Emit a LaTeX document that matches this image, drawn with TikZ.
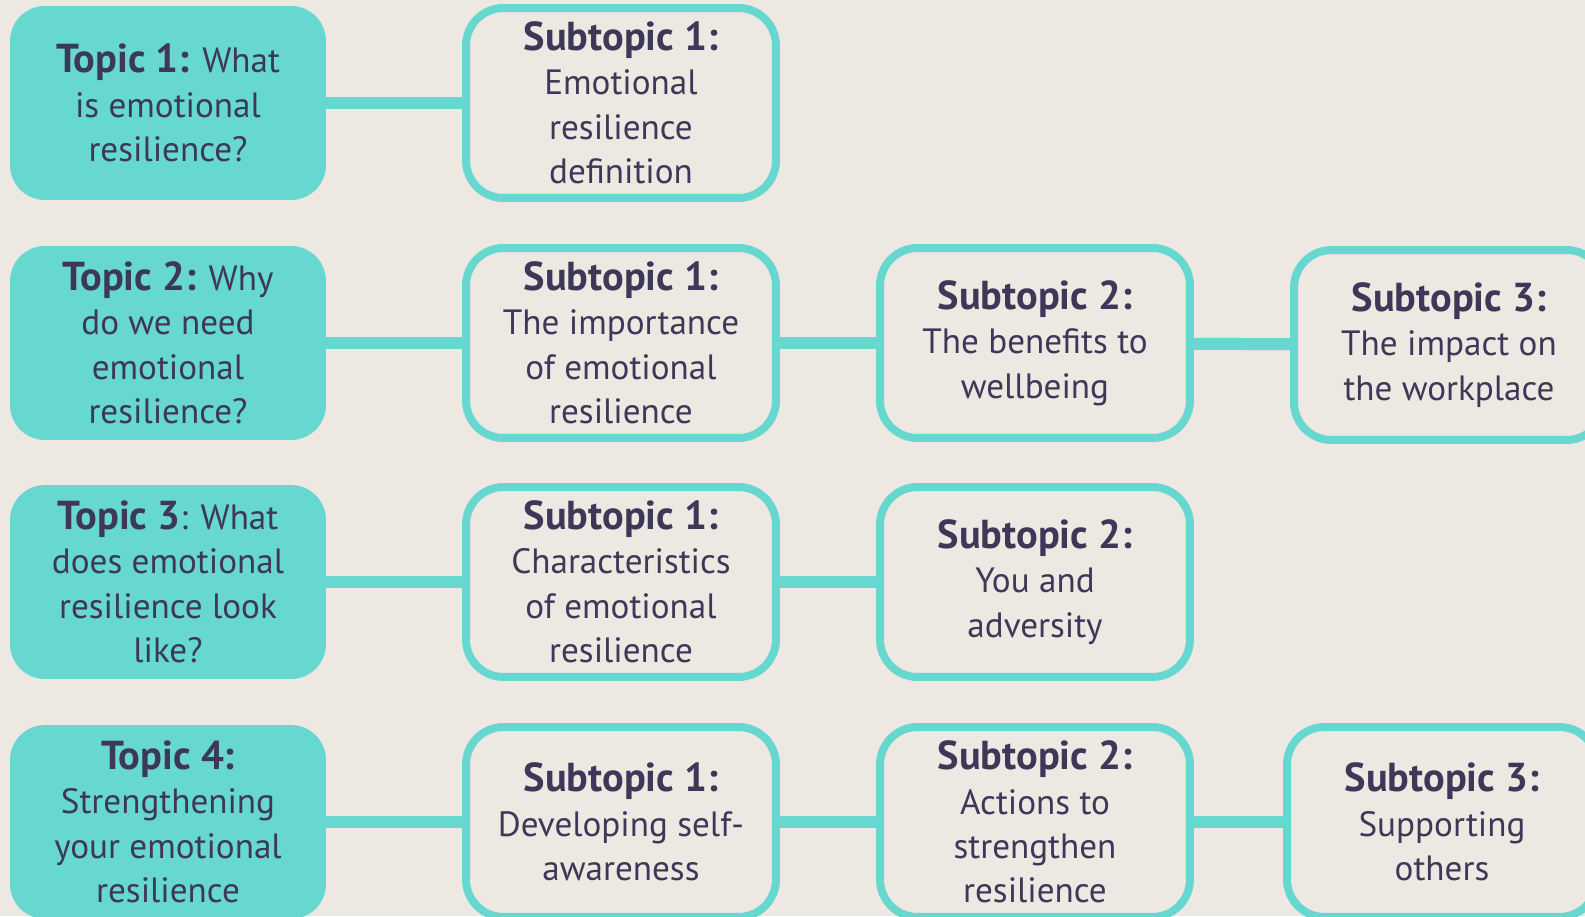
\documentclass[tikz,border=0pt]{standalone}
\usepackage{fontspec}
\setmainfont{PT Sans}
\definecolor{bgbeige}{HTML}{EEE8E3}
\definecolor{teal}{HTML}{66D8D0}
\definecolor{ink}{HTML}{3D3858}
\newcommand{\head}[1]{{\fontsize{23}{25.3}\selectfont\bfseries #1}}
\tikzset{
  topic/.style={rounded corners=0.7cm, fill=teal, text=ink, align=center,
    minimum width=6.32cm, minimum height=3.88cm, inner sep=0pt,
    font=\fontsize{20}{25.3}\selectfont},
  subtopic/.style={rounded corners=0.75cm, draw=teal, line width=0.16cm, fill=bgbeige, text=ink,
    align=center, minimum width=6.2cm, minimum height=3.8cm, inner sep=0pt,
    font=\fontsize{20}{25.3}\selectfont},
  link/.style={teal, line width=0.24cm}
}
\begin{document}
\begin{tikzpicture}[x=0.02cm, y=-0.02cm]
            \fill[bgbeige] (0,0) rectangle (1585,916);
            \useasboundingbox (0,0) rectangle (1585,916);
            \clip (0,0) rectangle (1585,916);
            % topics
            \node[topic] (T1) at (168,103) {\head{Topic 1:} What\\is emotional\\resilience?};
            \node[topic] (T2) at (168,343) {\head{Topic 2:} Why\\do we need\\emotional\\resilience?};
            \node[topic] (T3) at (168,582) {\head{Topic 3}: What\\does emotional\\resilience look\\like?};
            \node[topic] (T4) at (168,822) {\head{Topic 4:}\\Strengthening\\your emotional\\resilience};
            % subtopics
            \node[subtopic] (S11) at (621,103) {\head{Subtopic 1:}\\Emotional\\resilience\\definition};
            \node[subtopic] (S21) at (621,343) {\head{Subtopic 1:}\\The importance\\of emotional\\resilience};
            \node[subtopic] (S22) at (1035,343) {\head{Subtopic 2:}\\The benefits to\\wellbeing};
            \node[subtopic] (S23) at (1449,345) {\head{Subtopic 3:}\\The impact on\\the workplace};
            \node[subtopic] (S31) at (621,582) {\head{Subtopic 1:}\\Characteristics\\of emotional\\resilience};
            \node[subtopic] (S32) at (1035,582) {\head{Subtopic 2:}\\You and\\adversity};
            \node[subtopic] (S41) at (621,822) {\head{Subtopic 1:}\\Developing self-\\awareness};
            \node[subtopic] (S42) at (1035,822) {\head{Subtopic 2:}\\Actions to\\strengthen\\resilience};
            \node[subtopic] (S43) at (1442,822) {\head{Subtopic 3:}\\Supporting\\others};
            % links
            \draw[link] (T1) to (S11);
            \draw[link] (T2) to (S21);
            \draw[link] (S21) to (S22);
            \draw[link] (S22) to (S23);
            \draw[link] (T3) to (S31);
            \draw[link] (S31) to (S32);
            \draw[link] (T4) to (S41);
            \draw[link] (S41) to (S42);
            \draw[link] (S42) to (S43);
        \end{tikzpicture}
\end{document}
